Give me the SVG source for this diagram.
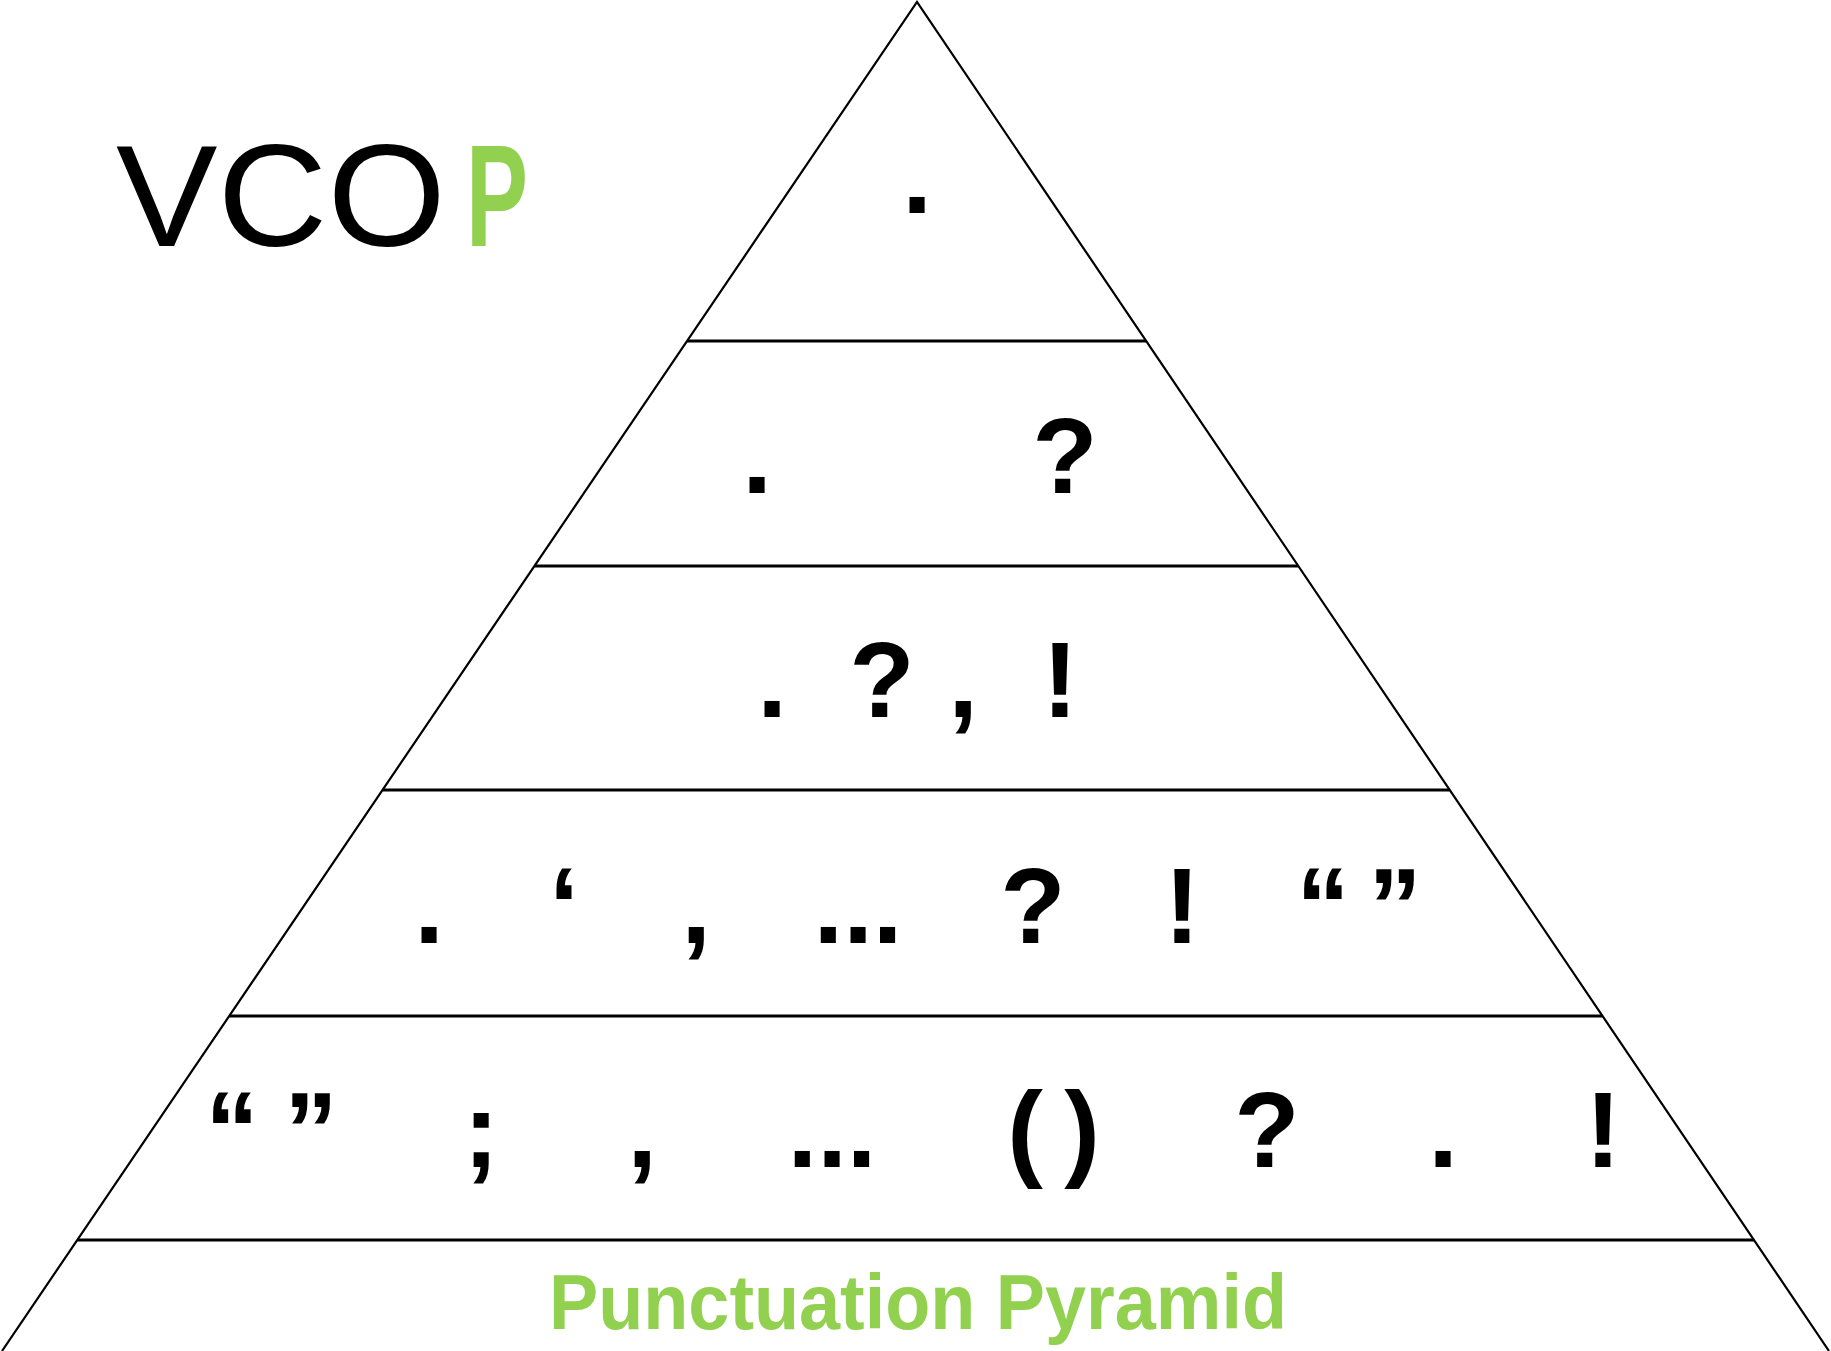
<svg xmlns="http://www.w3.org/2000/svg" width="1831" height="1351" viewBox="0 0 1831 1351">
  <style>
    .edge { stroke: #000; stroke-width: 2.2; fill: none; }
    .tier { stroke: #000; stroke-width: 3; }
    .p { font-family: "Liberation Sans", Arial, sans-serif; font-weight: bold; font-size: 107px; fill: #000; text-anchor: middle; }
    .green { fill: #92D050; }
  </style>
  <rect width="1831" height="1351" fill="#fff"/>
  <g id="title">
    <text x="116" y="246" font-family="Liberation Sans, Arial, sans-serif" font-size="145"><tspan x="116" textLength="330" lengthAdjust="spacingAndGlyphs">VCO</tspan><tspan x="466" class="green" font-weight="bold" textLength="62" lengthAdjust="spacingAndGlyphs">P</tspan></text>
  </g>
  <g id="pyramid">
    <path class="edge" d="M2,1351 L917,2 L1829,1351"/>
    <line class="tier" x1="687" y1="341" x2="1146" y2="341"/>
    <line class="tier" x1="534.5" y1="566" x2="1298.3" y2="566"/>
    <line class="tier" x1="382.5" y1="790" x2="1449.7" y2="790"/>
    <line class="tier" x1="229.2" y1="1016" x2="1602.5" y2="1016"/>
    <line class="tier" x1="77.3" y1="1240" x2="1754" y2="1240"/>
  </g>
  <g id="tier1">
    <text class="p" x="917" y="213">.</text>
  </g>
  <g id="tier2">
    <text class="p" x="757" y="493">.</text>
    <text class="p" x="1065" y="493">?</text>
  </g>
  <g id="tier3">
    <text class="p" x="772" y="717">.</text>
    <text class="p" x="882" y="717">?</text>
    <text class="p" x="963" y="717">,</text>
    <text class="p" x="1060" y="717">!</text>
  </g>
  <g id="tier4">
    <text class="p" x="429" y="943">.</text>
    <text class="p" x="564" y="943">‘</text>
    <text class="p" x="696" y="943">,</text>
    <text class="p" x="858" y="943">...</text>
    <text class="p" x="1033" y="943">?</text>
    <text class="p" x="1182" y="943">!</text>
    <text class="p" x="1323" y="943">“</text>
    <text class="p" x="1395" y="943">”</text>
  </g>
  <g id="tier5">
    <text class="p" x="232" y="1167">“</text>
    <text class="p" x="311" y="1167">”</text>
    <text class="p" x="481" y="1167">;</text>
    <text class="p" x="642" y="1167">,</text>
    <text class="p" x="832" y="1167">...</text>
    <text class="p" x="1025" y="1167">(</text>
    <text class="p" x="1082" y="1167">)</text>
    <text class="p" x="1267" y="1167">?</text>
    <text class="p" x="1443" y="1167">.</text>
    <text class="p" x="1603" y="1167">!</text>
  </g>
  <g id="caption">
    <text x="549" y="1329" font-family="Liberation Sans, Arial, sans-serif" font-weight="bold" font-size="78" class="green" textLength="738" lengthAdjust="spacingAndGlyphs">Punctuation Pyramid</text>
  </g>
</svg>
